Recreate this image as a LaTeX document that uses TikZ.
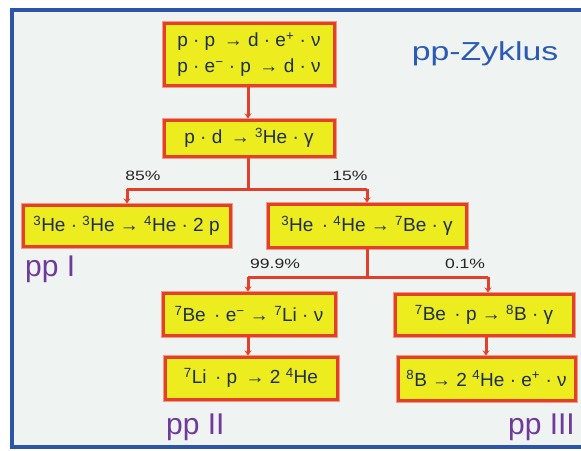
\documentclass[tikz,border=0pt]{standalone}
\usepackage{fontspec}
\setmainfont{Liberation Sans}
\newfontfamily\widefont{Liberation Sans}[FakeStretch=1.3]
\usetikzlibrary{arrows.meta}
\definecolor{bgc}{HTML}{EFF3F1}
\definecolor{framec}{HTML}{2C55A8}
\definecolor{boxred}{HTML}{E2402A}
\definecolor{boxedge}{HTML}{F29A80}
\definecolor{boxyellow}{HTML}{ECEC1E}
\definecolor{txtc}{HTML}{1E2E4E}
\definecolor{titlec}{HTML}{2A5AB4}
\definecolor{ppc}{HTML}{6E3A9C}
\tikzset{
  rbox/.style={draw=boxred, line width=3pt, fill=boxyellow, text=txtc,
    preaction={draw=boxedge, line width=5pt},
    inner sep=0pt, align=center, font=\fontsize{19}{26}\selectfont},
  conn/.style={draw=boxred, line width=3pt},
  carrow/.style={conn, -{Stealth[length=5pt,width=7pt]}},
  pct/.style={text=black!85, font=\widefont\fontsize{13.5}{15}\selectfont},
  pplab/.style={text=ppc, font=\fontsize{30}{32}\selectfont, anchor=base west, inner sep=0pt},
}
\newcommand{\sps}[1]{\textsuperscript{#1}}
\begin{document}
\begin{tikzpicture}[x=1pt,y=-1pt]
\useasboundingbox (0,0) rectangle (581,450);
\fill[white] (0,0) rectangle (581,450);
\fill[bgc] (12,10) rectangle (581,447);
\draw[framec, line width=4pt] (581,10) -- (12,10) -- (12,447) -- (581,447);

\node[rbox, minimum width=170pt, minimum height=62pt] (b1) at (249,54.5)
  {p · p \,→ d · e\sps{+} · ν\\ p · e\sps{−} · p \,→ d · ν};
\node[rbox, minimum width=170pt, minimum height=36pt] (b2) at (249,138)
  {p · d \,→ \sps{3}He · γ};
\node[rbox, minimum width=207pt, minimum height=41pt] (b3) at (126.5,225.5)
  {\sps{3}He · \sps{3}He → \sps{4}He · 2 p};
\node[rbox, minimum width=198pt, minimum height=43pt] (b4) at (367,225.5)
  {\sps{3}He \,· \sps{4}He → \sps{7}Be · γ};
\node[rbox, minimum width=172pt, minimum height=42pt] (b5) at (249,314)
  {\sps{7}Be \,· e\sps{−} → \sps{7}Li · ν};
\node[rbox, minimum width=172pt, minimum height=42pt] (b6) at (251,378)
  {\sps{7}Li \,· p \,→ 2 \sps{4}He};
\node[rbox, minimum width=178pt, minimum height=41pt] (b7) at (484,314.5)
  {\sps{7}Be \,· p → \sps{8}B · γ};
\node[rbox, minimum width=177pt, minimum height=43pt] (b8) at (486.5,378.5)
  {\sps{8}B → 2 \sps{4}He · e\sps{+} · ν};

\coordinate (s1) at (248,189);
\coordinate (s1l) at (127,189);
\coordinate (s1r) at (367,189);
\coordinate (s2) at (367,277);
\coordinate (s2l) at (248,277);
\coordinate (s2r) at (488,277);

\draw[carrow] ([xshift=-1pt]b1.south) -- ([xshift=-1pt]b2.north);
\draw[conn] ([xshift=-1pt]b2.south) -- (s1);
\draw[conn] (s1l) -- (s1r);
\draw[carrow] (s1l) -- (b3.north -| s1l);
\draw[carrow] (s1r) -- (b4.north -| s1r);
\draw[conn] (b4.south) -- (s2);
\draw[conn] (s2l) -- (s2r);
\draw[carrow] (s2l) -- (b5.north -| s2l);
\draw[carrow] (s2r) -- (b7.north -| s2r);
\draw[carrow] (b5.south -| s2l) -- (b6.north -| s2l);
\draw[carrow] ([xshift=2pt]b7.south) -- ([xshift=2pt]b7.south |- b8.north);

\node[pct] (p85) at (143,176) {85\%};
\node[pct] (p15) at (350,176) {15\%};
\node[pct] (p999) at (275,264) {99.9\%};
\node[pct] (p01) at (465,264) {0.1\%};

\node[text=titlec, font=\widefont\fontsize{26}{28}\selectfont] (title) at (485,54) {pp-Zyklus};
\node[pplab] (pp1) at (25,276) {pp I};
\node[pplab] (pp2) at (166,434) {pp II};
\node[pplab, anchor=base east] (pp3) at (575,434) {pp III};
\end{tikzpicture}
\end{document}
